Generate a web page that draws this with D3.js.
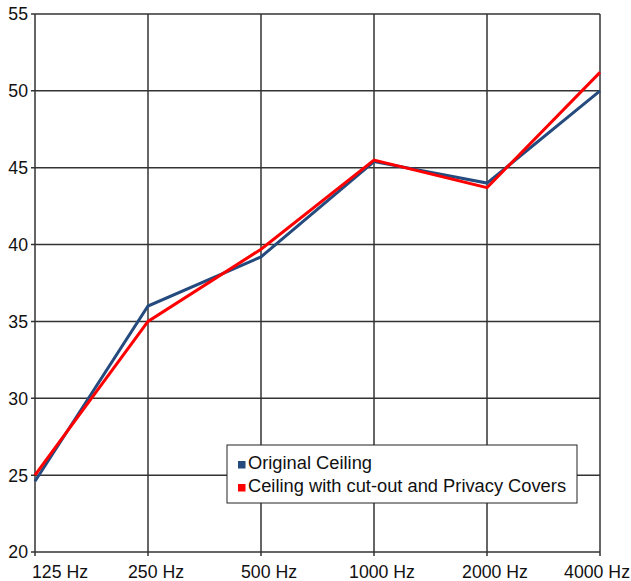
<!DOCTYPE html>
<html lang="en">
<head>
  <meta charset="utf-8">
  <title>Ceiling comparison</title>
  <script src="https://d3js.org/d3.v7.min.js"></script>
  <style>
    body { margin: 0; background: #fff; }
    text { font-family: "Liberation Sans", Arial, sans-serif; fill: #111; }
  </style>
</head>
<body>
  <script>
    // values
    var categories = ["125 Hz", "250 Hz", "500 Hz", "1000 Hz", "2000 Hz", "4000 Hz"];
    var originalCeiling = [24.6, 36, 39.2, 45.4, 44, 50];
    var privacyCovers = [25, 35, 39.7, 45.5, 43.7, 51.2];
    var yTicks = [20, 25, 30, 35, 40, 45, 50, 55];
    var seriesNames = ["Original Ceiling", "Ceiling with cut-out and Privacy Covers"];
    var seriesColors = ["#254a7e", "#ff0000"];

    var width = 631, height = 581;
    var margin = {top: 14, right: 31, bottom: 29, left: 35};

    var svg = d3.select("body").append("svg")
      .attr("width", width)
      .attr("height", height);

    var x = d3.scalePoint()
      .domain(categories)
      .range([margin.left, width - margin.right]);

    var y = d3.scaleLinear()
      .domain([20, 55])
      .range([height - margin.bottom, margin.top]);

    // grid
    svg.append("g")
      .selectAll("line")
      .data(yTicks)
      .enter().append("line")
      .attr("x1", margin.left - 4)
      .attr("x2", width - margin.right)
      .attr("y1", function(d) { return y(d); })
      .attr("y2", function(d) { return y(d); })
      .attr("stroke", "#333")
      .attr("stroke-width", 1.5);

    svg.append("g")
      .selectAll("line")
      .data(categories)
      .enter().append("line")
      .attr("x1", function(d) { return x(d); })
      .attr("x2", function(d) { return x(d); })
      .attr("y1", margin.top)
      .attr("y2", height - margin.bottom + 4)
      .attr("stroke", "#333")
      .attr("stroke-width", 1.5);

    // tick labels
    svg.append("g")
      .selectAll("text")
      .data(yTicks)
      .enter().append("text")
      .attr("x", margin.left - 7)
      .attr("y", function(d) { return y(d); })
      .attr("dy", "0.36em")
      .attr("text-anchor", "end")
      .attr("font-size", 17.7)
      .text(function(d) { return d; });

    // x labels sit a little right of their ticks; the end ones are kept inside
    var last = categories.length - 1;
    svg.append("g")
      .selectAll("text")
      .data(categories)
      .enter().append("text")
      .attr("x", function(d, i) {
        if (i === 0) return x(d) - 3;
        if (i === last) return width - 1;
        return x(d) + 8;
      })
      .attr("y", height - 3)
      .attr("text-anchor", function(d, i) {
        return i === 0 ? "start" : (i === last ? "end" : "middle");
      })
      .attr("font-size", 17.7)
      .text(function(d) { return d; });

    // lines
    var line = d3.line()
      .x(function(d, i) { return x(categories[i]); })
      .y(function(d) { return y(d); });

    [originalCeiling, privacyCovers].forEach(function(s, i) {
      svg.append("path")
        .datum(s)
        .attr("fill", "none")
        .attr("stroke", seriesColors[i])
        .attr("stroke-width", 3)
        .attr("stroke-linejoin", "miter")
        .attr("d", line);
    });

    // legend
    var legend = svg.append("g").attr("transform", "translate(227,445)");
    legend.append("rect")
      .attr("width", 350)
      .attr("height", 58)
      .attr("fill", "#fff")
      .attr("stroke", "#222")
      .attr("stroke-width", 1);

    var item = legend.selectAll("g.item")
      .data(seriesNames)
      .enter().append("g")
      .attr("transform", function(d, i) { return "translate(11," + (23.5 + i * 23) + ")"; });

    item.append("rect")
      .attr("y", -7.5)
      .attr("width", 7.5)
      .attr("height", 7.5)
      .attr("fill", function(d, i) { return seriesColors[i]; });

    item.append("text")
      .attr("x", 10)
      .attr("font-size", 18.3)
      .text(function(d) { return d; });
  </script>
</body>
</html>
